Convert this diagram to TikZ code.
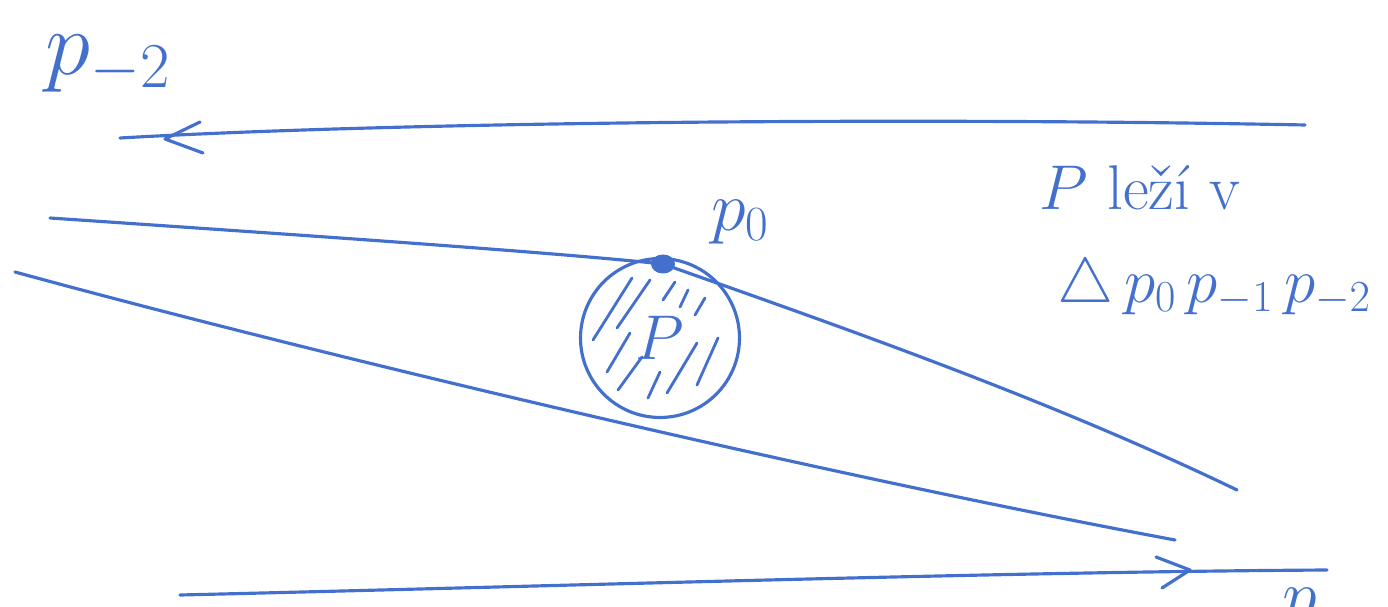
\RequirePackage{fix-cm}
\documentclass[tikz,border=0pt]{standalone}
\usepackage{amssymb}
\definecolor{penblue}{RGB}{68,112,205}
\begin{document}
\begin{tikzpicture}[x=0.02cm,y=-0.02cm,
  pen/.style={draw=penblue,line width=1.8pt,line cap=round,line join=round},
  hatch/.style={draw=penblue,line width=1.6pt,line cap=round},
  lbl/.style={text=penblue,inner sep=0pt}]
\useasboundingbox (0,0) rectangle (1388,607);
% named points
\coordinate (a1) at (120,138); \coordinate (a2) at (1305,125);
\coordinate (b1) at (50,218);  \coordinate (p0) at (663,264); \coordinate (b2) at (1237,490);
\coordinate (c1) at (15,272);  \coordinate (c2) at (1175,540);
\coordinate (d1) at (180,595); \coordinate (d2) at (1327,570);
% lines
\draw[pen] (a1) .. controls (400,122) and (900,117) .. (a2);
\draw[pen] (165,139) -- (200,122) (165,139) -- (203,153);
\draw[pen] (b1) .. controls (300,235) and (550,252) .. (p0);
\draw[pen] (p0) .. controls (850,330) and (1050,400) .. (b2);
\draw[pen] (c1) .. controls (300,350) and (800,470) .. (c2);
\draw[pen] (d1) .. controls (600,585) and (1000,572) .. (d2);
\draw[pen] (1156,557) -- (1190,570) -- (1162,588);
% circle with hatching
\node[circle,pen,minimum size=3.18cm,inner sep=0pt,text=penblue,font=\fontsize{36}{40}\selectfont] (P) at (660,338) {$P$};
\fill[penblue] (p0) ellipse (0.24cm and 0.19cm);
\draw[hatch] (593,340) -- (632,278) (607,372) -- (630,333) (618,390) -- (642,357)
  (617,328) -- (650,280) (648,398) -- (660,372) (663,300) -- (675,282)
  (680,307) -- (688,290) (695,315) -- (705,298) (667,393) -- (697,343)
  (697,385) -- (718,338);
% labels
\node[lbl,font=\fontsize{52}{60}\selectfont] (lm2) at (108,64) {$p_{-2}$};
\node[lbl,font=\fontsize{40}{44}\selectfont] (l0) at (740,222) {$p_0$};
\node[lbl,font=\fontsize{36}{40}\selectfont] (t1) at (1140,188) {$P$ leží v};
\node[lbl,font=\fontsize{36}{40}\selectfont] (t2) at (1214,287) {$\triangle\, p_0\, p_{-1}\, p_{-2}$};
\node[lbl,font=\fontsize{40}{44}\selectfont,anchor=north] (lb) at (1300,588) {$p$};
\end{tikzpicture}
\end{document}
